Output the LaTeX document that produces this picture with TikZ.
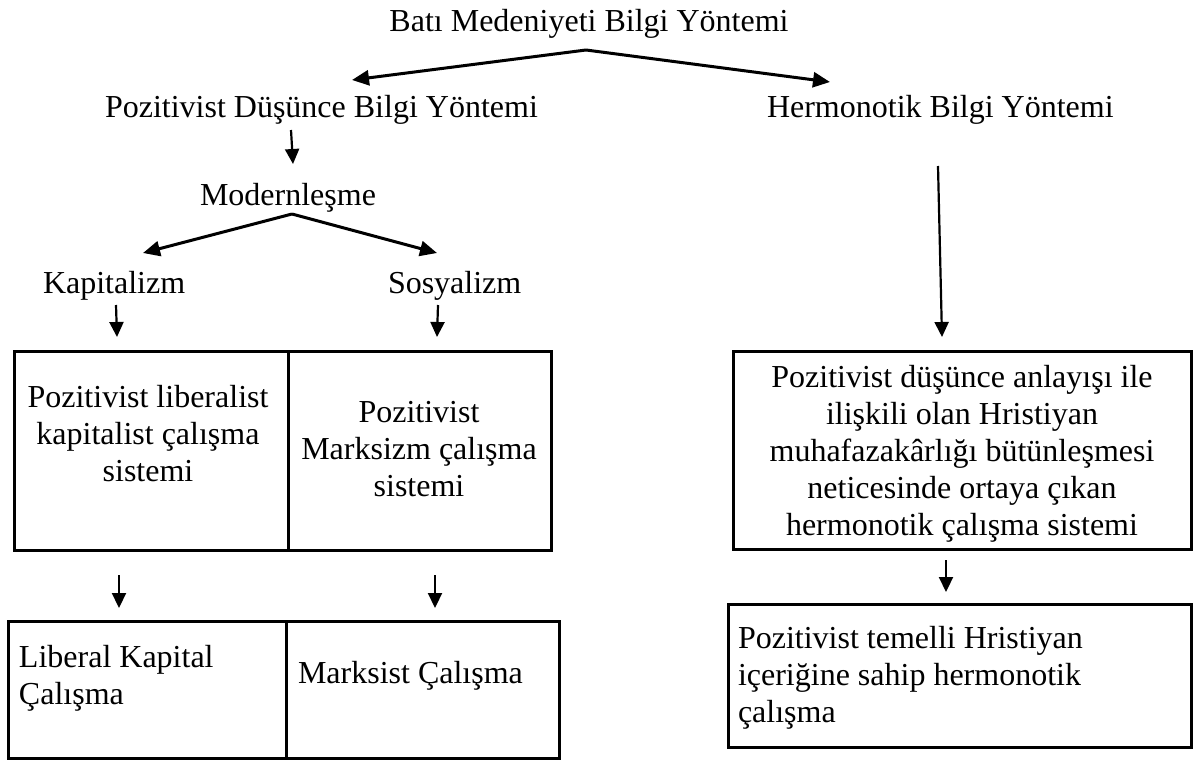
\documentclass[tikz,border=0pt]{standalone}
\usepackage{fontspec}
\setmainfont{Liberation Serif}
\usetikzlibrary{arrows.meta}
\begin{document}
\begin{tikzpicture}[x=1pt,y=-1pt,
  txt/.style={inner sep=0pt, outer sep=0pt, font=\fontsize{32}{37}\selectfont},
  box/.style={draw, line width=3pt, inner sep=0pt, outer sep=0pt, anchor=north west},
  arr/.style={line width=2.2pt, -{Triangle[length=15pt,width=14pt]}},
  bigarr/.style={line width=3pt, -{Triangle[length=17pt,width=15pt]}}]
\useasboundingbox (0,0) rectangle (1194,760);

% boxes
\node[box, minimum width=274pt, minimum height=199pt] (b1) at (14,351) {};
\node[box, minimum width=263pt, minimum height=199pt] (b2) at (288,351) {};
\node[box, minimum width=458pt, minimum height=198pt] (b3) at (733,351) {};
\node[box, minimum width=278pt, minimum height=137.5pt] (b4) at (8,621) {};
\node[box, minimum width=273pt, minimum height=137.5pt] (b5) at (286,621) {};
\node[box, minimum width=463pt, minimum height=143pt] (b6) at (728,604) {};

% texts
\node[txt, anchor=base] (t0) at (589,32) {Batı Medeniyeti Bilgi Yöntemi};
\node[txt, anchor=base west] (t1) at (105,117) {Pozitivist Düşünce Bilgi Yöntemi};
\node[txt, anchor=base west] (t2) at (767,117) {Hermonotik Bilgi Yöntemi};
\node[txt, anchor=base west] (t3) at (200,205) {Modernleşme};
\node[txt, anchor=base west] (t4) at (43,293) {Kapitalizm};
\node[txt, anchor=base west] (t5) at (388,293) {Sosyalizm};

\node[txt, align=center, anchor=north] (x1) at (148,385) {Pozitivist liberalist\\kapitalist çalışma\\sistemi};
\node[txt, align=center, anchor=north] (x2) at (419,401) {Pozitivist\\Marksizm çalışma\\sistemi};
\node[txt, align=center, anchor=north] (x3) at (962,365) {Pozitivist düşünce anlayışı ile\\ilişkili olan Hristiyan\\muhafazakârlığı bütünleşmesi\\neticesinde ortaya çıkan\\hermonotik çalışma sistemi};
\node[txt, align=left, anchor=north west] (x4) at (19,645) {Liberal Kapital\\Çalışma};
\node[txt, anchor=north west] (x5) at (298,661) {Marksist Çalışma};
\node[txt, align=left, anchor=north west] (x6) at (738,626) {Pozitivist temelli Hristiyan\\içeriğine sahip hermonotik\\çalışma};

% connector end points
\coordinate (c0) at (586,50);
\coordinate (c0l) at (352,80);
\coordinate (c0r) at (830,82);
\coordinate (c1s) at (291,130);
\coordinate (c1e) at (293,164);
\coordinate (c2) at (292,214);
\coordinate (c2l) at (143,253);
\coordinate (c2r) at (437,253);
\coordinate (c3s) at (116,305);
\coordinate (c3e) at (117,337);
\coordinate (c4s) at (438,305);
\coordinate (c4e) at (437,337);
\coordinate (c5s) at (938,166);
\coordinate (c5e) at (942,337);
\coordinate (c6s) at (119,575);
\coordinate (c6e) at (119,608);
\coordinate (c7s) at (435,575);
\coordinate (c7e) at (435,608);
\coordinate (c8s) at (946,560);
\coordinate (c8e) at (946,592);

\draw[bigarr] (c0) -- (c0l);
\draw[bigarr] (c0) -- (c0r);
\draw[arr] (c1s) -- (c1e);
\draw[bigarr] (c2) -- (c2l);
\draw[bigarr] (c2) -- (c2r);
\draw[arr] (c3s) -- (c3e);
\draw[arr] (c4s) -- (c4e);
\draw[arr] (c5s) -- (c5e);
\draw[arr] (c6s) -- (c6e);
\draw[arr] (c7s) -- (c7e);
\draw[arr] (c8s) -- (c8e);
\end{tikzpicture}
\end{document}
